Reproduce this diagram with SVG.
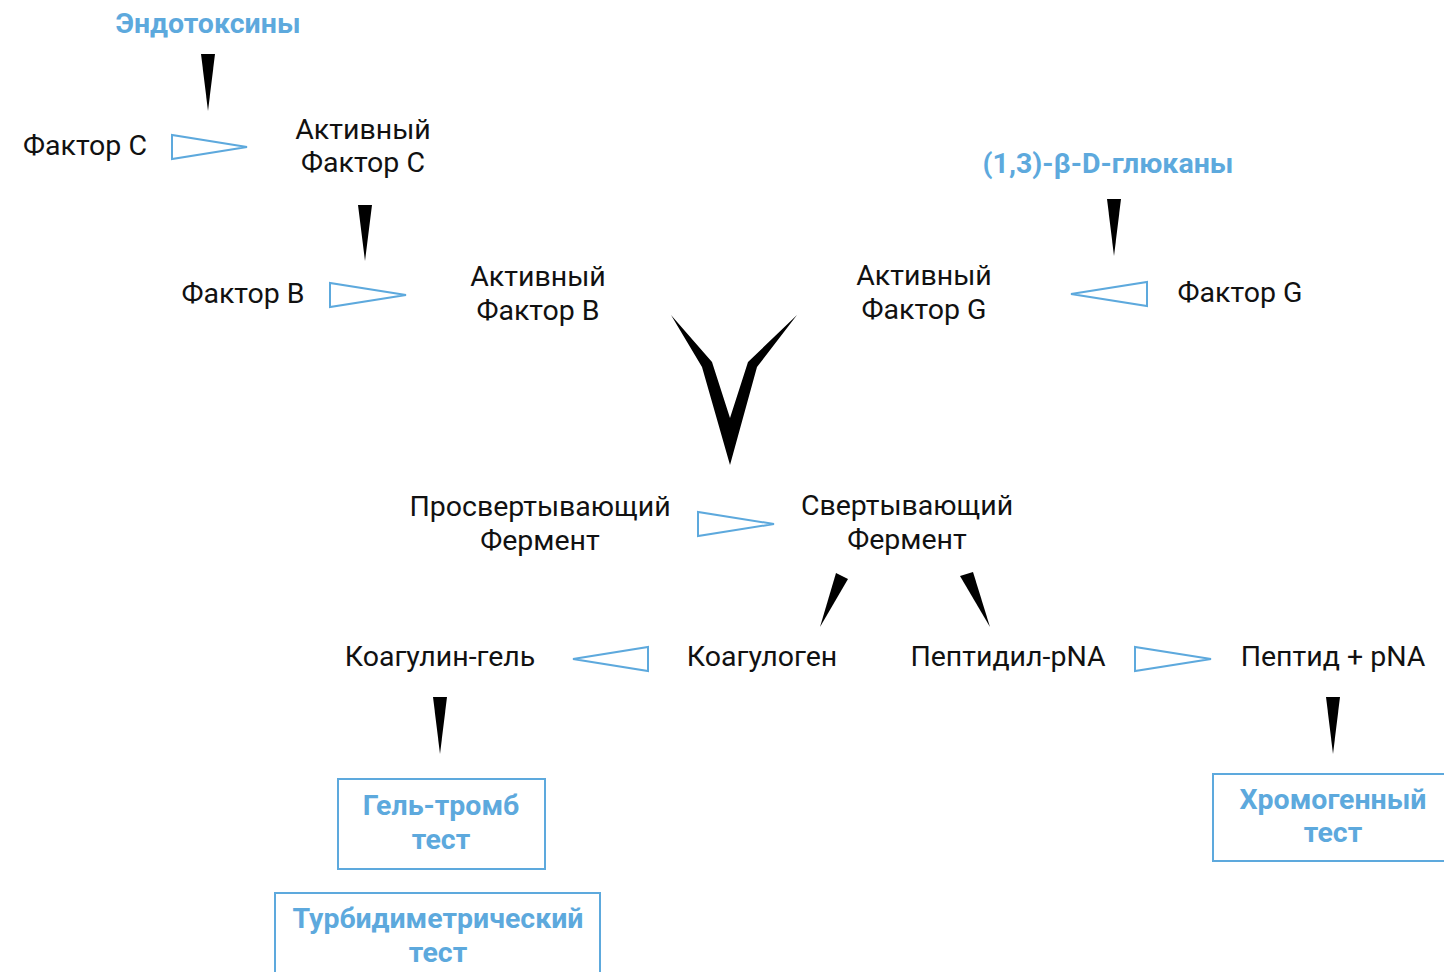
<svg xmlns="http://www.w3.org/2000/svg" width="1444" height="972" viewBox="0 0 1444 972">
<style>
.t{font-family:Roboto,"Liberation Sans",sans-serif;font-size:28.5px;fill:#111;text-anchor:middle}
.b{font-family:Roboto,"Liberation Sans",sans-serif;font-size:28.5px;font-weight:bold;fill:#5DA9DD;text-anchor:middle}
.tri{fill:none;stroke:#5DA9DD;stroke-width:2}
.w{fill:#000}
.box{fill:none;stroke:#5DA9DD;stroke-width:2}
</style>
<rect width="1444" height="972" fill="#fff"/>
<g id="endotoxins"><text class="b" x="208" y="33">Эндотоксины</text></g>
<g id="factorC"><text class="t" x="85" y="155">Фактор С</text></g>
<g id="activeC"><text class="t" x="363" y="139">Активный</text><text class="t" x="363" y="172">Фактор С</text></g>
<g id="factorB"><text class="t" x="243" y="303">Фактор В</text></g>
<g id="activeB"><text class="t" x="538" y="286">Активный</text><text class="t" x="538" y="320">Фактор В</text></g>
<g id="glucans"><text class="b" x="1108" y="173">(1,3)-β-D-глюканы</text></g>
<g id="activeG"><text class="t" x="924" y="285">Активный</text><text class="t" x="924" y="319">Фактор G</text></g>
<g id="factorG"><text class="t" x="1240" y="302">Фактор G</text></g>
<g id="proclotting"><text class="t" x="540" y="516">Просвертывающий</text><text class="t" x="540" y="550">Фермент</text></g>
<g id="clotting"><text class="t" x="907" y="515">Свертывающий</text><text class="t" x="907" y="549">Фермент</text></g>
<g id="coagulin"><text class="t" x="440" y="666">Коагулин-гель</text></g>
<g id="coagulogen"><text class="t" x="762" y="666">Коагулоген</text></g>
<g id="peptidyl"><text class="t" x="1008" y="666">Пептидил-pNA</text></g>
<g id="peptide"><text class="t" x="1333" y="666">Пептид + pNA</text></g>
<g id="gelclot"><rect class="box" x="338" y="779" width="207" height="90"/><text class="b" x="441" y="815">Гель-тромб</text><text class="b" x="441" y="849">тест</text></g>
<g id="turbidimetric"><rect class="box" x="275" y="893" width="325" height="100"/><text class="b" x="438" y="928">Турбидиметрический</text><text class="b" x="438" y="962">тест</text></g>
<g id="chromogenic"><rect class="box" x="1213" y="774" width="250" height="87"/><text class="b" x="1333" y="809">Хромогенный</text><text class="b" x="1333" y="842">тест</text></g>
<g id="connectors">
<polygon class="w" points="201,54 215,54 208,111"/>
<polygon class="tri" points="172,135 172,159 247,147"/>
<polygon class="w" points="358,205 372,205 365,261"/>
<polygon class="tri" points="330,283 330,307 406,295"/>
<polygon class="w" points="1107,199 1121,199 1114,256"/>
<polygon class="tri" points="1147,282 1147,306 1071,294"/>
<polygon class="w" points="671,315 712,362 730,418 748,362 797,315 757,367 730,465 702,367"/>
<polygon class="tri" points="698,512 698,536 774,524"/>
<polygon class="w" points="836,573 848,579 820,627"/>
<polygon class="w" points="960,576 973,572 990,627"/>
<polygon class="tri" points="648,647 648,671 573,659"/>
<polygon class="tri" points="1135,647 1135,671 1211,659"/>
<polygon class="w" points="433,697 447,697 440,754"/>
<polygon class="w" points="1326,697 1340,697 1333,754"/>
</g>
</svg>
